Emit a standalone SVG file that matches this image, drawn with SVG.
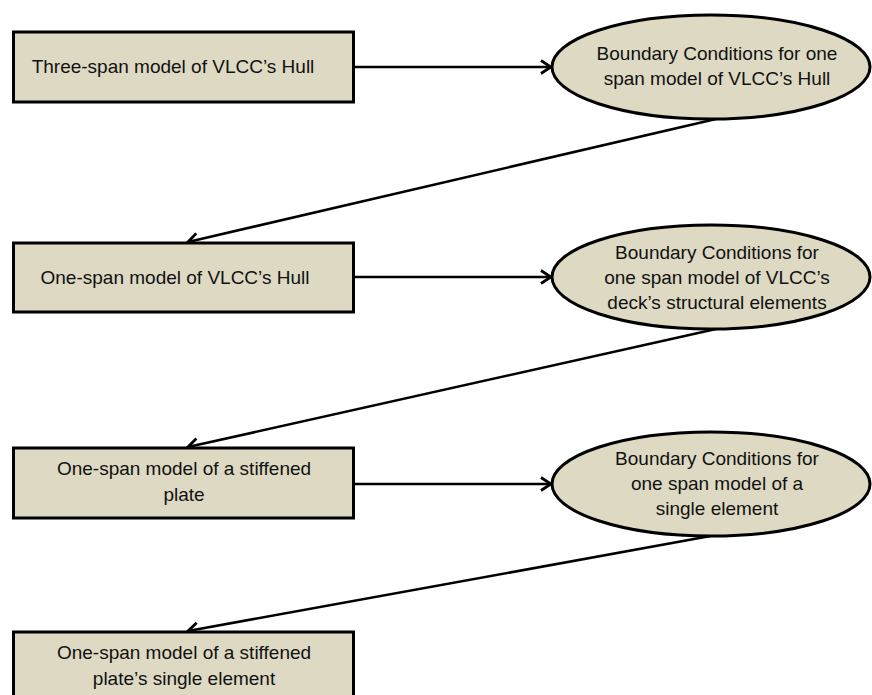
<svg xmlns="http://www.w3.org/2000/svg" width="872" height="695" viewBox="0 0 872 695">
<defs>
<style>
.box{fill:#DDD9C3;stroke:#000;stroke-width:3}
.ell{fill:#DDD9C3;stroke:#000;stroke-width:3}
text{font-family:"Liberation Sans",Arial,sans-serif;font-size:19px;fill:#111;text-anchor:middle}
.conn line{stroke:#000;stroke-width:2.6;fill:none}
</style>
<marker id="arr" viewBox="0 0 16 16" refX="14" refY="8" markerWidth="16" markerHeight="16" markerUnits="userSpaceOnUse" orient="auto">
<polyline points="4,1.5 14,8 4,14.5" fill="none" stroke="#000" stroke-width="2.8"/>
</marker>
</defs>
<rect width="872" height="695" fill="#fff"/>
<g class="conn" id="connectors">
<line x1="353" y1="67" x2="551" y2="67" marker-end="url(#arr)"/>
<line x1="716" y1="119" x2="188" y2="242" marker-end="url(#arr)"/>
<line x1="353" y1="277" x2="551" y2="277" marker-end="url(#arr)"/>
<line x1="716" y1="329" x2="188" y2="447" marker-end="url(#arr)"/>
<line x1="353" y1="484" x2="551" y2="484" marker-end="url(#arr)"/>
<line x1="716" y1="535" x2="188" y2="631" marker-end="url(#arr)"/>
</g>
<g id="box1">
<rect class="box" x="13.5" y="32" width="340" height="70"/>
<text x="173" y="73">Three-span model of VLCC’s Hull</text>
</g>
<g id="ell1">
<ellipse class="ell" cx="711" cy="67" rx="159" ry="52"/>
<text x="717" y="60">Boundary Conditions for one</text>
<text x="717" y="85">span model of VLCC’s Hull</text>
</g>
<g id="box2">
<rect class="box" x="13.5" y="243" width="340" height="69"/>
<text x="175" y="284">One-span model of VLCC’s Hull</text>
</g>
<g id="ell2">
<ellipse class="ell" cx="711" cy="277" rx="159" ry="52"/>
<text x="717" y="259">Boundary Conditions for</text>
<text x="717" y="284">one span model of VLCC’s</text>
<text x="717" y="309">deck’s structural elements</text>
</g>
<g id="box3">
<rect class="box" x="13.5" y="448" width="340" height="70"/>
<text x="184" y="475">One-span model of a stiffened</text>
<text x="184" y="501">plate</text>
</g>
<g id="ell3">
<ellipse class="ell" cx="711" cy="484" rx="159" ry="52"/>
<text x="717" y="465">Boundary Conditions for</text>
<text x="717" y="490">one span model of a</text>
<text x="717" y="515">single element</text>
</g>
<g id="box4">
<rect class="box" x="13.5" y="632" width="340" height="70"/>
<text x="184" y="659">One-span model of a stiffened</text>
<text x="184" y="685">plate’s single element</text>
</g>
</svg>
